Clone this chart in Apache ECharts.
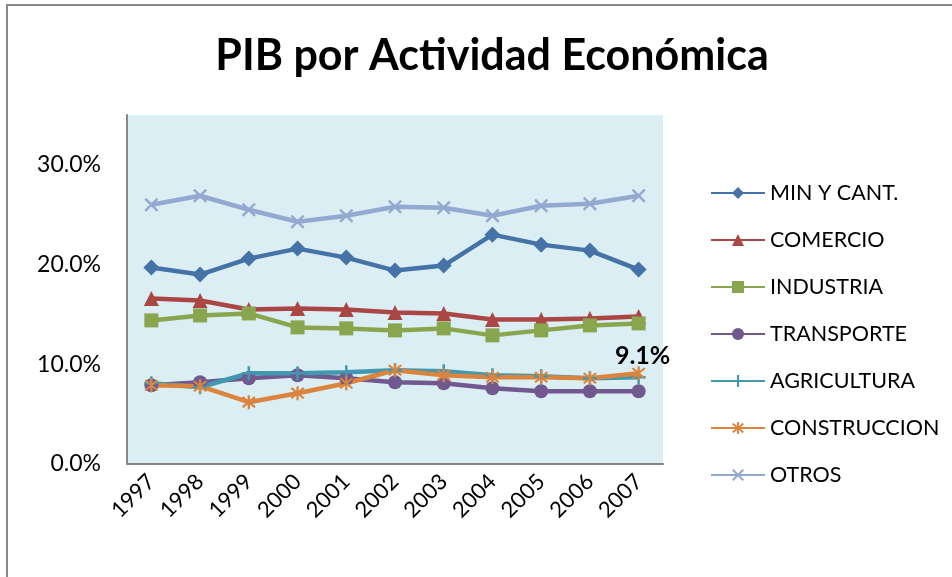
<!DOCTYPE html>
<html>
<head>
<meta charset="utf-8">
<script src="https://cdn.jsdelivr.net/npm/echarts@6/dist/echarts.min.js"></script>
<style>
    html, body { margin: 0; padding: 0; background: #fff; }
    #chart { width: 952px; height: 577px; }
</style>
</head>
<body>
<div id="chart"></div>
<script>
// datos (porcentaje del PIB)
const years = ['1997', '1998', '1999', '2000', '2001', '2002', '2003', '2004', '2005', '2006', '2007'];
const minCant = [19.7, 19.0, 20.6, 21.6, 20.7, 19.4, 19.9, 23.0, 22.0, 21.4, 19.5];
const comercio = [16.6, 16.4, 15.5, 15.6, 15.5, 15.2, 15.1, 14.5, 14.5, 14.6, 14.8];
const industria = [14.4, 14.9, 15.1, 13.7, 13.6, 13.4, 13.6, 12.9, 13.4, 13.9, 14.1];
const transporte = [7.9, 8.2, 8.6, 8.9, 8.6, 8.2, 8.1, 7.6, 7.3, 7.3, 7.3];
const agricultura = [8.1, 7.7, 9.1, 9.1, 9.2, 9.4, 9.3, 8.9, 8.8, 8.6, 8.7];
const construccion = [7.9, 7.8, 6.2, 7.1, 8.1, 9.4, 8.9, 8.7, 8.7, 8.6, 9.1];
const otros = [26.0, 26.9, 25.5, 24.3, 24.9, 25.8, 25.7, 24.9, 25.9, 26.1, 26.9];
const yTicks = [0, 10, 20, 30];

const FONT = 'Lato';

// marcadores tipo Excel
const plusPath = 'path://M4.1,0h1.8v10h-1.8z M0,4.1h10v1.8h-10z';
const xPath = 'path://M0,1.2L1.2,0L10,8.8L8.8,10Z M8.8,0L10,1.2L1.2,10L0,8.8Z';
const starPath = 'path://M0,1.2L1.2,0L10,8.8L8.8,10Z M8.8,0L10,1.2L1.2,10L0,8.8Z M4.2,-1h1.6v12h-1.6z';

function line(name, data, color, symbol, size) {
    return {
        name: name,
        type: 'line',
        data: data,
        symbol: symbol,
        symbolSize: size,
        lineStyle: { color: color, width: 4.5 },
        itemStyle: { color: color },
        z: 2
    };
}

const chart = echarts.init(document.getElementById('chart'));

// etiqueta del ultimo punto de construccion
const constrData = construccion.map((v, i) => {
    if (i === construccion.length - 1) {
        return {
            value: v,
            label: {
                show: true,
                position: 'top',
                distance: 0,
                offset: [4, 2],
                formatter: p => p.value.toFixed(1) + '%',
                fontFamily: FONT,
                fontWeight: 'bold',
                fontSize: 25,
                color: '#000'
            }
        };
    }
    return v;
});

const option = {
    animation: false,
    title: {
        text: 'PIB por Actividad Económica',
        left: 487,
        top: 30,
        textAlign: 'center',
        textStyle: { fontFamily: FONT, fontWeight: 'bold', fontSize: 43, color: '#000' }
    },
    graphic: [
        {
            type: 'rect',
            shape: { x: 7, y: 5, width: 1000, height: 1000 },
            style: { fill: 'none', stroke: '#888', lineWidth: 2 },
            silent: true
        }
    ],
    legend: {
        orient: 'vertical',
        left: 705,
        top: 177,
        itemWidth: 54,
        itemHeight: 15,
        itemGap: 25,
        textStyle: { fontFamily: FONT, fontSize: 21.5, color: '#000' },
        data: ['MIN Y CANT.', 'COMERCIO', 'INDUSTRIA', 'TRANSPORTE', 'AGRICULTURA', 'CONSTRUCCION', 'OTROS']
    },
    grid: {
        left: 127,
        right: 289,
        top: 115,
        bottom: 113,
        show: true,
        backgroundColor: '#DBEEF3',
        borderWidth: 0
    },
    xAxis: {
        type: 'category',
        data: years,
        boundaryGap: true,
        axisLine: { lineStyle: { color: '#868686', width: 2 } },
        axisTick: { show: false },
        axisLabel: { rotate: 45, margin: 14, fontFamily: FONT, fontSize: 22, color: '#000', interval: 0 }
    },
    yAxis: {
        type: 'value',
        min: 0,
        max: 35,
        interval: 10,
        axisLine: { show: true, lineStyle: { color: '#868686', width: 2 } },
        axisTick: { show: false },
        splitLine: { show: false },
        axisLabel: {
            margin: 26,
            fontFamily: FONT,
            fontSize: 23,
            color: '#000',
            formatter: v => yTicks.indexOf(v) >= 0 ? v.toFixed(1) + '%' : ''
        }
    },
    series: [
        line('MIN Y CANT.', minCant, '#4572A7', 'diamond', 16),
        line('COMERCIO', comercio, '#AA4643', 'triangle', 15),
        line('INDUSTRIA', industria, '#89A54E', 'rect', 14),
        line('TRANSPORTE', transporte, '#71588F', 'circle', 14),
        line('AGRICULTURA', agricultura, '#4198AF', plusPath, 14),
        line('CONSTRUCCION', constrData, '#DB843D', starPath, 14),
        line('OTROS', otros, '#93A9CF', xPath, 14)
    ]
};
chart.setOption(option);
</script>
</body>
</html>
